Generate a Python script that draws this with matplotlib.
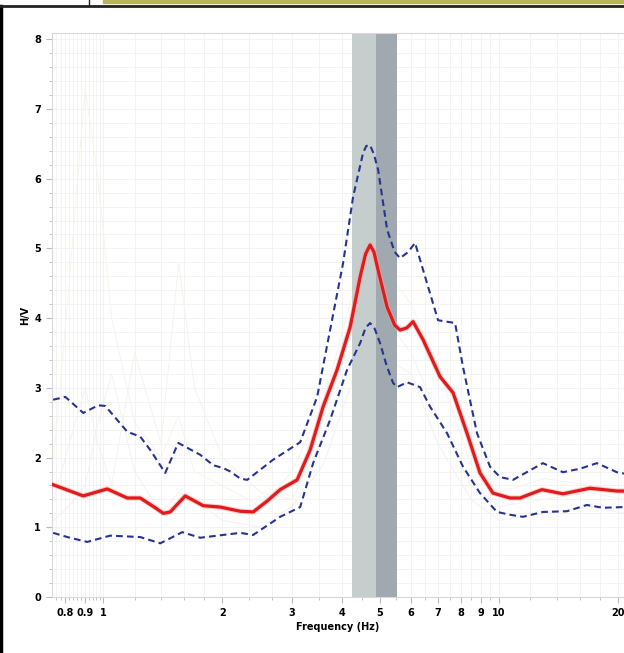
import matplotlib
matplotlib.use("Agg")
import matplotlib.pyplot as plt
from matplotlib.lines import Line2D
from matplotlib.patches import Rectangle
from matplotlib.ticker import NullFormatter

# === Curva media H/V ===
freq_mean = [0.747, 0.890, 1.023, 1.150, 1.240, 1.353, 1.418, 1.476, 1.611, 1.788,
             1.975, 2.218, 2.392, 2.600, 2.799, 3.090, 3.333, 3.594, 3.899, 4.205,
             4.457, 4.600, 4.724, 4.830, 4.949, 5.215, 5.450, 5.623, 5.850, 6.065,
             6.430, 7.097, 7.655, 8.302, 8.954, 9.656, 10.66, 11.30, 12.84, 14.51,
             16.97, 19.86, 20.7]
hv_mean = [1.61, 1.45, 1.55, 1.42, 1.42, 1.28, 1.20, 1.22, 1.45, 1.31,
           1.29, 1.23, 1.22, 1.38, 1.54, 1.68, 2.11, 2.73, 3.26, 3.87,
           4.59, 4.92, 5.05, 4.95, 4.69, 4.16, 3.90, 3.83, 3.86, 3.95,
           3.69, 3.16, 2.93, 2.35, 1.78, 1.49, 1.42, 1.42, 1.54, 1.48,
           1.56, 1.52, 1.52]

# === Media + deviazione standard ===
freq_upper = [0.747, 0.802, 0.890, 0.971, 1.012, 1.150, 1.240, 1.314, 1.434, 1.547,
              1.758, 1.896, 2.009, 2.093, 2.218, 2.310, 2.688, 3.145, 3.471, 3.743,
              4.037, 4.279, 4.535, 4.620, 4.724, 4.830, 4.949, 5.215, 5.450, 5.623,
              5.900, 6.136, 6.580, 7.015, 7.745, 8.111, 8.799, 9.491, 10.06, 10.85,
              12.91, 14.51, 16.02, 17.68, 19.86, 20.7]
hv_upper = [2.83, 2.87, 2.64, 2.75, 2.74, 2.37, 2.30, 2.11, 1.78, 2.21,
            2.04, 1.89, 1.85, 1.80, 1.70, 1.68, 1.97, 2.22, 2.87, 3.83,
            4.79, 5.74, 6.37, 6.47, 6.48, 6.35, 6.13, 5.27, 4.95, 4.86,
            4.95, 5.08, 4.50, 3.97, 3.93, 3.30, 2.35, 1.87, 1.72, 1.68,
            1.92, 1.79, 1.84, 1.92, 1.79, 1.77]

# === Media - deviazione standard ===
freq_lower = [0.747, 0.811, 0.911, 1.041, 1.240, 1.393, 1.583, 1.758, 2.218, 2.392,
              2.799, 3.145, 3.391, 3.743, 4.132, 4.457, 4.600, 4.724, 4.850, 5.007,
              5.200, 5.400, 5.526, 5.857, 6.318, 6.697, 7.392, 8.111, 8.954, 9.884,
              10.66, 11.50, 12.91, 14.85, 16.68, 18.31, 20.7]
hv_lower = [0.92, 0.86, 0.79, 0.88, 0.86, 0.77, 0.93, 0.85, 0.92, 0.89,
            1.15, 1.29, 1.92, 2.54, 3.26, 3.64, 3.86, 3.93, 3.85, 3.64,
            3.32, 3.07, 3.01, 3.08, 3.01, 2.73, 2.35, 1.87, 1.49, 1.22,
            1.18, 1.15, 1.22, 1.23, 1.32, 1.28, 1.29]

# === Alcune finestre singole (appena visibili) ===
freq_win = [0.75, 0.82, 0.9, 0.97, 1.05, 1.2, 1.4, 1.55, 1.7, 2.0, 2.5, 3.0, 3.6, 4.2, 4.7, 5.3, 6.0, 7.0, 8.5, 10.0, 13.0, 17.0, 20.7]
hv_win1 = [2.0, 4.5, 7.3, 6.0, 4.0, 2.5, 2.0, 2.6, 1.8, 1.6, 1.3, 1.8, 2.8, 4.2, 5.3, 4.6, 4.2, 3.3, 1.9, 1.5, 1.7, 1.6, 1.5]
hv_win2 = [1.4, 2.2, 3.0, 2.2, 1.6, 3.5, 2.2, 4.8, 3.0, 2.0, 1.5, 1.4, 2.3, 3.3, 4.4, 3.9, 3.5, 2.6, 1.6, 1.3, 1.4, 1.5, 1.4]
hv_win3 = [1.1, 1.3, 1.6, 2.5, 3.2, 1.8, 1.2, 1.5, 1.4, 1.1, 1.0, 1.3, 1.9, 3.0, 3.8, 3.4, 3.2, 2.2, 1.4, 1.1, 1.2, 1.3, 1.2]
win_colors = ["#f7f4ea", "#f1f5ec", "#f3f0f6"]

# Picco: f0 e deviazione
f0_band_low = (4.25, 4.89)
f0_band_high = (4.89, 5.53)

xtick_vals = [0.8, 0.9, 1, 2, 3, 4, 5, 6, 7, 8, 9, 10, 20]
xtick_labels = ["0.8", "0.9", "1", "2", "3", "4", "5", "6", "7", "8", "9", "10", "20"]
xminor_vals = [0.76, 0.78, 0.82, 0.84, 0.86, 0.88, 0.92, 0.94, 0.96, 0.98,
               1.2, 1.4, 1.6, 1.8, 2.33, 2.67, 3.5, 4.5, 5.5, 6.5, 7.5, 8.5, 9.5,
               12, 14, 16, 18]

fig = plt.figure(figsize=(6.24, 6.53), dpi=100)
ax = fig.add_axes([52 / 624, 56 / 653, 572 / 624, 564 / 653])

ax.set_xscale("log")
ax.set_xlim(0.742, 20.7)
ax.set_ylim(0, 8.09)

# finestre singole sotto le bande
for hv, c in zip([hv_win1, hv_win2, hv_win3], win_colors):
    ax.plot(freq_win, hv, color=c, lw=0.7, zorder=1)

# bande grigie intorno al picco
ax.axvspan(*f0_band_low, color="#c6cdcd", zorder=2, lw=0)
ax.axvspan(*f0_band_high, color="#a0a9af", zorder=2, lw=0)

ax.plot(freq_upper, hv_upper, color="#26348f", lw=1.5, ls=(0, (3.2, 2.0)), zorder=3)
ax.plot(freq_lower, hv_lower, color="#26348f", lw=1.5, ls=(0, (3.2, 2.0)), zorder=3)
ax.plot(freq_mean, hv_mean, color="#f4a0a0", lw=3.8, alpha=0.5, zorder=4)
ax.plot(freq_mean, hv_mean, color="#e01b1b", lw=2.3, zorder=5)

# assi e griglia
ax.set_xticks(xtick_vals)
ax.set_xticklabels(xtick_labels)
ax.set_xticks(xminor_vals, minor=True)
ax.xaxis.set_minor_formatter(NullFormatter())
ax.set_yticks(range(0, 9))
ax.set_yticks([i * 0.2 for i in range(41)], minor=True)
ax.grid(True, which="both", color="#f1f1f1", lw=0.6, zorder=0)
ax.set_axisbelow(True)

for s in ["top", "left", "bottom"]:
    ax.spines[s].set_color("#d8d8d8")
ax.spines["right"].set_visible(False)
ax.tick_params(which="both", color="#bbbbbb", direction="out")
ax.tick_params(which="major", length=4, width=0.8, labelsize=7, pad=4)
ax.tick_params(which="minor", length=2.5, width=0.6)
for lab in ax.get_xticklabels() + ax.get_yticklabels():
    lab.set_fontweight("bold")

ax.set_xlabel("Frequency (Hz)", fontsize=7, fontweight="bold", labelpad=3)
ax.set_ylabel("H/V", fontsize=7, fontweight="bold", labelpad=3)

# cornice della figura
fig.add_artist(Line2D([0.002, 0.002], [0, 1 - 6 / 653], color="black", lw=2.5))
fig.add_artist(Line2D([0, 1], [1 - 6 / 653, 1 - 6 / 653], color="#222222", lw=2))
fig.add_artist(Line2D([89 / 624, 89 / 624], [1 - 6 / 653, 1], color="#222222", lw=1))
fig.add_artist(Rectangle((103 / 624, 1 - 3 / 653), 1, 3 / 653, color="#b9b35a",
                         transform=fig.transFigure))

fig.savefig("out.png", dpi=100)
